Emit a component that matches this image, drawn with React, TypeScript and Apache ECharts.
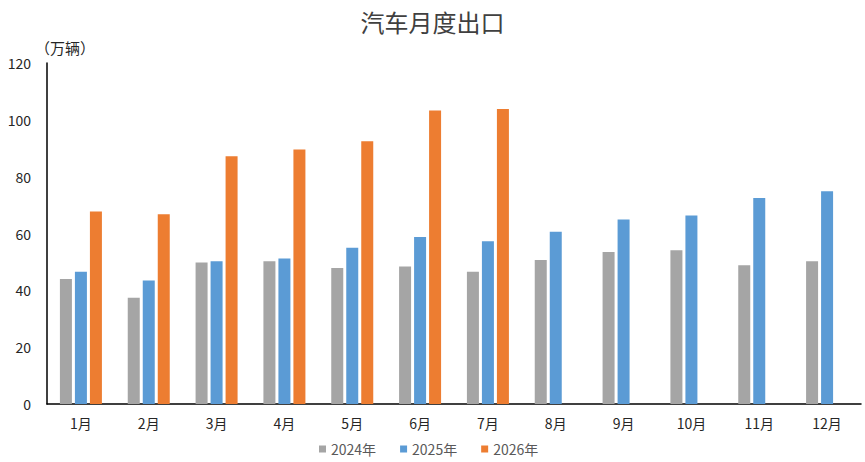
import React, { useEffect, useRef } from "react";
import * as echarts from "echarts";

const months = ["1月", "2月", "3月", "4月", "5月", "6月", "7月", "8月", "9月", "10月", "11月", "12月"];
const seriesNames = ["2024年", "2025年", "2026年"];
const values2024 = [44.0, 37.4, 49.8, 50.2, 47.9, 48.4, 46.5, 50.7, 53.5, 54.1, 48.8, 50.2];
const values2025 = [46.5, 43.5, 50.2, 51.2, 55.0, 58.8, 57.3, 60.6, 64.9, 66.3, 72.5, 74.9];
const values2026 = [67.7, 66.8, 87.2, 89.6, 92.5, 103.3, 103.8, null, null, null, null, null];
const colors = ["#A5A5A5", "#5B9BD5", "#ED7D31"];

const FONT = "'Noto Sans CJK SC', 'Liberation Sans', sans-serif";

export default function App() {
  const ref = useRef<HTMLDivElement>(null);
  useEffect(() => {
    document.body.style.margin = "0";
    if (!ref.current) return;
    const chart = echarts.init(ref.current, undefined, { renderer: "svg" });
    const data = [values2024, values2025, values2026];
    chart.setOption({
      animation: false,
      backgroundColor: "#ffffff",
      textStyle: { fontFamily: FONT },
      title: {
        text: "汽车月度出口",
        left: "center",
        top: 4,
        textStyle: { fontSize: 24, fontWeight: "normal", color: "#404040", fontFamily: FONT },
      },
      legend: {
        bottom: 1,
        left: 314,
        icon: "rect",
        itemWidth: 7,
        itemHeight: 7,
        itemGap: 24,
        data: seriesNames,
        textStyle: { fontSize: 14, color: "#595959", fontFamily: FONT },
      },
      grid: { left: 47, right: 4, top: 63, bottom: 58, containLabel: false },
      xAxis: {
        type: "category",
        data: months,
        axisLine: { lineStyle: { color: "#000000", width: 1.5 } },
        axisTick: { show: false },
        axisLabel: { fontSize: 14, color: "#262626", margin: 12, fontFamily: FONT },
      },
      yAxis: {
        type: "value",
        min: 0,
        max: 120,
        interval: 20,
        name: "（万辆）",
        nameLocation: "end",
        nameGap: 8,
        nameTextStyle: { fontSize: 15, color: "#262626", align: "left", padding: [0, 0, 0, -12], fontFamily: FONT },
        axisLine: { show: true, lineStyle: { color: "#000000", width: 1.5 } },
        axisTick: { show: false },
        splitLine: { show: false },
        axisLabel: { fontSize: 14, color: "#262626", margin: 16, fontFamily: FONT },
      },
      series: seriesNames.map((name, i) => ({
        name,
        type: "bar",
        data: data[i],
        barWidth: 12,
        barGap: "25%",
        itemStyle: { color: colors[i] },
      })),
    });
    return () => chart.dispose();
  }, []);
  return <div ref={ref} style={{ width: 865, height: 462 }} />;
}
